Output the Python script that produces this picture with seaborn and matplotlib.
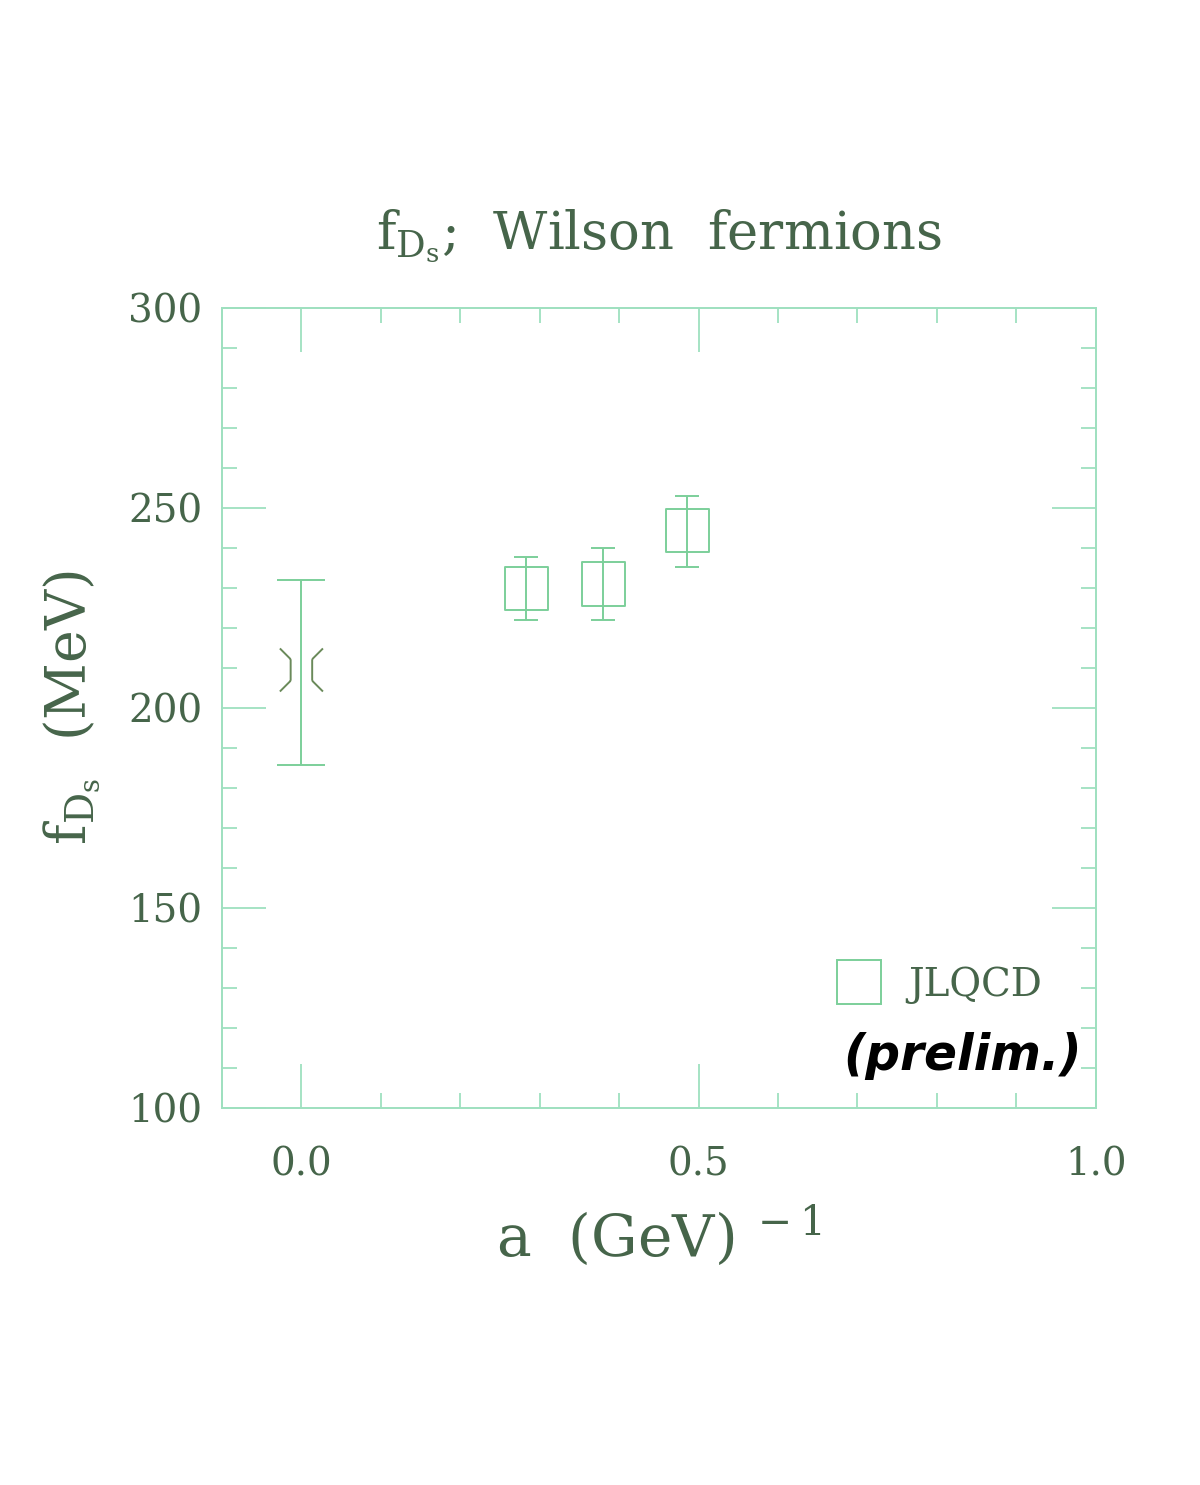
import numpy as np
import pandas as pd
import matplotlib
matplotlib.use('Agg')
import matplotlib.pyplot as plt
from matplotlib.path import Path
from matplotlib.lines import Line2D
from matplotlib.ticker import MultipleLocator, FixedLocator
import seaborn as sns

# continuum-extrapolated value
a_cont = [0.0]
f_cont = [209.5]
cont_lo = [23.75]
cont_hi = [22.5]

# JLQCD lattice points
a_lat = [0.283, 0.380, 0.486]
f_lat = [229.9, 231.0, 244.3]
lat_lo = [7.9, 9.0, 9.0]
lat_hi = [7.9, 9.1, 8.75]

x_ticks = [0.0, 0.5, 1.0]
y_ticks = [100, 150, 200, 250, 300]

text_col = '#46654a'
line_col = '#7ccf9a'
frame_col = '#9ee0bf'

sns.set_theme(style='ticks')
plt.rcParams['font.family'] = ['DejaVu Serif', 'DejaVu Sans']
plt.rcParams['mathtext.fontset'] = 'dejavuserif'

fig = plt.figure(figsize=(12, 14.85), dpi=100)
ax = fig.add_axes([0.185, 0.2539, 0.728, 0.5387])

# bow-tie marker for the extrapolated point
verts = [(-0.5, 0.5), (-0.5, -0.5), (-0.5, 0.5), (-1, 1), (-0.5, -0.5), (-1, -1),
         (0.5, 0.5), (0.5, -0.5), (0.5, 0.5), (1, 1), (0.5, -0.5), (1, -1)]
codes = [Path.MOVETO, Path.LINETO, Path.MOVETO, Path.LINETO, Path.MOVETO, Path.LINETO] * 2
bowtie = Path(verts, codes)

lat = pd.DataFrame({'a': a_lat, 'f': f_lat})
cont = pd.DataFrame({'a': a_cont, 'f': f_cont})

ax.errorbar(a_cont, f_cont, yerr=[cont_lo, cont_hi], fmt='none', ecolor=line_col,
            elinewidth=1.4, capsize=17.5, capthick=1.4)
ax.errorbar(a_lat, f_lat, yerr=[lat_lo, lat_hi], fmt='none', ecolor=line_col,
            elinewidth=1.4, capsize=8.5, capthick=1.4)
sns.scatterplot(data=cont, x='a', y='f', marker=bowtie, s=31**2, facecolor='none',
                edgecolor='#6a8a5a', linewidth=1.4, ax=ax, legend=False)
sns.scatterplot(data=lat, x='a', y='f', marker='s', s=31**2, facecolor='none',
                edgecolor=line_col, linewidth=1.4, ax=ax, legend=False)

ax.set_xlim(-0.1, 1.0)
ax.set_ylim(100, 300)
ax.xaxis.set_major_locator(FixedLocator(x_ticks))
ax.xaxis.set_minor_locator(MultipleLocator(0.1))
ax.yaxis.set_major_locator(FixedLocator(y_ticks))
ax.yaxis.set_minor_locator(MultipleLocator(10))
ax.set_xticklabels(['0.0', '0.5', '1.0'])
ax.tick_params(which='both', direction='in', top=True, right=True, colors=frame_col,
               labelcolor=text_col, labelsize=28, width=1.3)
ax.tick_params(which='major', length=32)
ax.tick_params(which='minor', length=11)
ax.tick_params(axis='x', which='major', pad=28)
ax.tick_params(axis='y', which='major', pad=14)
for sp in ax.spines.values():
    sp.set_color(frame_col)
    sp.set_linewidth(1.4)

ax.set_title(r'$\mathrm{f}_{\mathrm{D_s}}$;  Wilson  fermions', fontsize=38,
             color=text_col, pad=42)
ax.set_xlabel(r'a  (GeV)$^{\ -1}$', fontsize=42, color=text_col, labelpad=14)
ax.set_ylabel(r'$\mathrm{f}_{\mathrm{D_s}}$  (MeV)', fontsize=40, color=text_col, labelpad=18)

handle = Line2D([], [], marker='s', ls='', mfc='none', mec=line_col, mew=1.4, ms=31)
ax.legend(handles=[handle], labels=['JLQCD'], loc='center left', frameon=False,
          bbox_to_anchor=(0.665, 0.154), fontsize=28, labelcolor=text_col,
          handlelength=1.1, handletextpad=0.7)
ax.text(0.833, 113.0, '(prelim.)', fontsize=35, fontweight='bold', fontstyle='italic',
        color='black', ha='center', va='center', family='DejaVu Sans')

fig.savefig('out.png', dpi=100, facecolor='white')
